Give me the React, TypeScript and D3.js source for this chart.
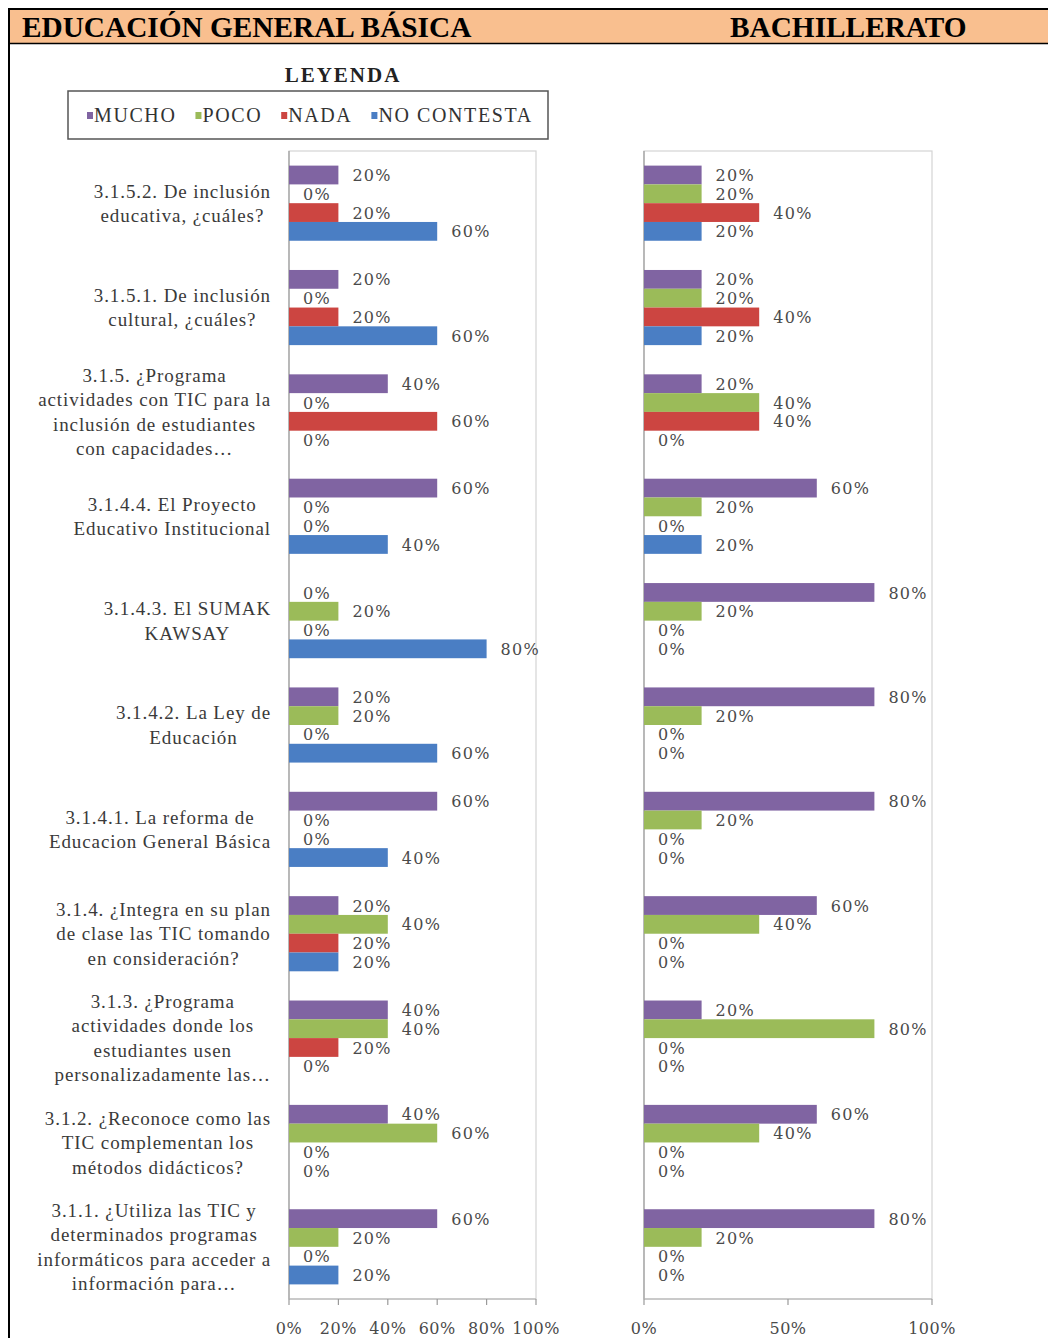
import React, { useEffect, useRef } from 'react';
import * as d3 from 'd3';

const categories = [
  "3.1.5.2. De inclusión\neducativa, ¿cuáles?",
  "3.1.5.1. De inclusión\ncultural, ¿cuáles?",
  "3.1.5. ¿Programa\nactividades con TIC para la\ninclusión de estudiantes\ncon capacidades…",
  "3.1.4.4. El Proyecto\nEducativo Institucional",
  "3.1.4.3. El SUMAK\nKAWSAY",
  "3.1.4.2. La Ley de\nEducación",
  "3.1.4.1. La reforma de\nEducacion General Básica",
  "3.1.4. ¿Integra en su plan\nde clase las TIC tomando\nen consideración?",
  "3.1.3. ¿Programa\nactividades donde los\nestudiantes usen\npersonalizadamente las…",
  "3.1.2. ¿Reconoce como las\nTIC complementan los\nmétodos didácticos?",
  "3.1.1. ¿Utiliza las TIC y\ndeterminados programas\ninformáticos para acceder a\ninformación para…",
];

const seriesNames = ["MUCHO", "POCO", "NADA", "NO CONTESTA"];
const seriesColors = ["#8064A2", "#9BBB59", "#CC4541", "#4A7EC4"];

const egbMucho = [20, 20, 40, 60, 0, 20, 60, 20, 40, 40, 60];
const egbPoco = [0, 0, 0, 0, 20, 20, 0, 40, 40, 60, 20];
const egbNada = [20, 20, 60, 0, 0, 0, 0, 20, 20, 0, 0];
const egbNoContesta = [60, 60, 0, 40, 80, 60, 40, 20, 0, 0, 20];

const bachMucho = [20, 20, 20, 60, 80, 80, 80, 60, 20, 60, 80];
const bachPoco = [20, 20, 40, 20, 20, 20, 20, 40, 80, 40, 20];
const bachNada = [40, 40, 40, 0, 0, 0, 0, 0, 0, 0, 0];
const bachNoContesta = [20, 20, 0, 20, 0, 0, 0, 0, 0, 0, 0];

const egbTicks = [0, 20, 40, 60, 80, 100];
const bachTicks = [0, 50, 100];

const headerLeft = "EDUCACIÓN GENERAL BÁSICA";
const headerRight = "BACHILLERATO";
const legendTitle = "LEYENDA";

const SERIF = "'DejaVu Serif', serif";
const TIMES = "'Liberation Serif', 'Times New Roman', serif";

export default function App() {
  const ref = useRef<SVGSVGElement>(null);

  useEffect(() => {
    const svg = d3.select(ref.current);
    svg.selectAll('*').remove();

    // Header band
    svg.append('rect').attr('x', 8).attr('y', 8).attr('width', 1040).attr('height', 36).attr('fill', '#F9BF8F');
    svg.append('line').attr('x1', 8).attr('x2', 1048).attr('y1', 9).attr('y2', 9).attr('stroke', '#000').attr('stroke-width', 2);
    svg.append('line').attr('x1', 8).attr('x2', 1048).attr('y1', 43.5).attr('y2', 43.5).attr('stroke', '#000').attr('stroke-width', 1.5);
    svg.append('line').attr('x1', 9).attr('x2', 9).attr('y1', 8).attr('y2', 1338).attr('stroke', '#000').attr('stroke-width', 2);

    svg.append('text').attr('x', 22).attr('y', 37).text(headerLeft)
      .attr('font-family', TIMES).attr('font-weight', 'bold').attr('font-size', 29.3).attr('fill', '#000');
    svg.append('text').attr('x', 730).attr('y', 37).text(headerRight)
      .attr('font-family', TIMES).attr('font-weight', 'bold').attr('font-size', 29.3).attr('fill', '#000');

    // Legend
    svg.append('text').attr('x', 343).attr('y', 82).attr('text-anchor', 'middle').text(legendTitle)
      .attr('font-family', TIMES).attr('font-weight', 'bold').attr('font-size', 21).attr('letter-spacing', 2).attr('fill', '#222');
    svg.append('rect').attr('x', 68).attr('y', 91).attr('width', 480).attr('height', 48)
      .attr('fill', '#fff').attr('stroke', '#555').attr('stroke-width', 1.5);
    let lx = 87;
    seriesNames.forEach((name, i) => {
      svg.append('rect').attr('x', lx).attr('y', 112).attr('width', 6).attr('height', 7).attr('fill', seriesColors[i]);
      const t = svg.append('text').attr('x', lx + 7).attr('y', 122).text(name)
        .attr('font-family', TIMES).attr('font-size', 20).attr('letter-spacing', 1.6).attr('fill', '#333');
      const w = (t.node() as SVGTextElement).getComputedTextLength();
      lx = lx + 7 + w + 19;
    });

    const plotTop = 151;
    const plotBottom = 1299;
    const idx = categories.map((_, i) => String(i));
    const y = d3.scaleBand<string>().domain(idx).range([plotTop, plotBottom]).paddingInner(0.28).paddingOuter(0.14);
    const ys = d3.scaleBand<string>().domain(seriesNames).range([0, y.bandwidth()]);

    const drawPanel = (x0: number, x1: number, values: number[][], ticks: number[]) => {
      const x = d3.scaleLinear().domain([0, 100]).range([x0, x1]);
      const g = svg.append('g');
      g.append('rect').attr('x', x0).attr('y', plotTop).attr('width', x1 - x0).attr('height', plotBottom - plotTop)
        .attr('fill', 'none').attr('stroke', '#D4D4D4').attr('stroke-width', 1.2);
      g.append('line').attr('x1', x0).attr('x2', x0).attr('y1', plotTop).attr('y2', plotBottom).attr('stroke', '#9A9A9A').attr('stroke-width', 1.2);
      g.append('line').attr('x1', x0).attr('x2', x1).attr('y1', plotBottom).attr('y2', plotBottom).attr('stroke', '#B0B0B0').attr('stroke-width', 1.2);
      ticks.forEach(t => {
        g.append('line').attr('x1', x(t)).attr('x2', x(t)).attr('y1', plotBottom).attr('y2', plotBottom + 6).attr('stroke', '#9A9A9A').attr('stroke-width', 1.2);
        g.append('text').attr('x', x(t)).attr('y', 1334).attr('text-anchor', 'middle').text(`${t}%`)
          .attr('font-family', SERIF).attr('font-size', 16).attr('letter-spacing', 0.5).attr('fill', '#4a4a4a');
      });
      idx.forEach((c, ci) => {
        seriesNames.forEach((s, si) => {
          const v = values[si][ci];
          const by = (y(c) as number) + (ys(s) as number);
          const bh = ys.bandwidth();
          if (v > 0) {
            g.append('rect').attr('x', x(0)).attr('y', by).attr('width', x(v) - x(0)).attr('height', bh)
              .attr('fill', seriesColors[si]);
          }
          g.append('text').attr('x', x(v) + 14).attr('y', by + bh / 2).attr('dy', '0.38em').text(`${v}%`)
            .attr('font-family', SERIF).attr('font-size', 16).attr('letter-spacing', 1.3).attr('fill', '#4a4a4a');
        });
      });
    };

    drawPanel(289, 536, [egbMucho, egbPoco, egbNada, egbNoContesta], egbTicks);
    drawPanel(644, 932, [bachMucho, bachPoco, bachNada, bachNoContesta], bachTicks);

    // Category labels (block right-aligned, lines centered)
    idx.forEach((c, ci) => {
      const lines = categories[ci].split('\n');
      const center = (y(c) as number) + y.bandwidth() / 2;
      const lh = 24.5;
      const texts = lines.map((ln, li) =>
        svg.append('text').attr('y', center + (li - (lines.length - 1) / 2) * lh).attr('dy', '0.35em')
          .attr('text-anchor', 'middle').text(ln)
          .attr('font-family', TIMES).attr('font-size', 19).attr('letter-spacing', 0.9).attr('fill', '#3a3a3a'));
      const maxW = d3.max(texts, t => (t.node() as SVGTextElement).getComputedTextLength()) || 0;
      texts.forEach(t => t.attr('x', 271 - maxW / 2));
    });
  }, []);

  return (
    <svg ref={ref} width={1048} height={1338}
      style={{ position: 'absolute', left: 0, top: 0, background: '#fff' }} />
  );
}
